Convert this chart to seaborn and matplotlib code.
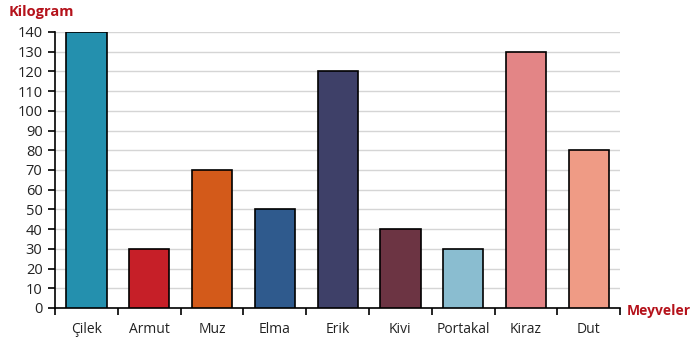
import matplotlib
matplotlib.use("Agg")
import matplotlib.pyplot as plt
import seaborn as sns
import pandas as pd
import numpy as np

categories = ["Çilek", "Armut", "Muz", "Elma", "Erik", "Kivi", "Portakal", "Kiraz", "Dut"]
values = [140, 30, 70, 50, 120, 40, 30, 130, 80]
colors = ["#2490AE", "#C61F28", "#D35A1A", "#2F5A8D", "#3E4068", "#6C3443", "#8ABDD0", "#E38586", "#EF9B85"]
yticks = list(range(0, 141, 10))

sns.set_theme(style="white")
plt.rcParams['font.family'] = ['Open Sans', 'DejaVu Sans']

df = pd.DataFrame({"Meyve": categories, "Kg": values})

fig = plt.figure(figsize=(7, 3.47), dpi=100)
ax = fig.add_axes([0.0786, 0.1124, 0.8074, 0.7954])
sns.barplot(data=df, x="Meyve", y="Kg", hue="Meyve", palette=colors, legend=False,
            saturation=1, edgecolor="black", linewidth=1.2, width=0.64, ax=ax, zorder=3)

ax.set_ylim(0, 140)
ax.set_xlim(-0.5, len(categories) - 0.5)
ax.set_yticks(yticks)
ax.set_yticklabels([str(v) for v in yticks], fontsize=10.5, color="#222222")
ax.yaxis.grid(True, color="#d5d5d5", linewidth=1, zorder=0)
ax.set_axisbelow(True)

ax.set_xticks(np.arange(-0.5, len(categories), 1.0))
ax.set_xticklabels([])
ax.set_xticks(np.arange(len(categories)), minor=True)
ax.set_xticklabels(categories, minor=True, fontsize=10, color="#222222")
ax.tick_params(axis="x", which="major", direction="out", length=5, width=1.2, color="black", bottom=True)
ax.tick_params(axis="x", which="minor", length=0, pad=10)
ax.tick_params(axis="y", direction="out", length=5, width=1.2, color="black", left=True, pad=4)

for s in ["top", "right"]:
    ax.spines[s].set_visible(False)
for s in ["left", "bottom"]:
    ax.spines[s].set_color("black")
    ax.spines[s].set_linewidth(1.2)

ax.set_xlabel("")
ax.set_ylabel("")
fig.text(0.012, 0.965, "Kilogram", color="#B5121B", fontsize=10.5, fontweight="bold", ha="left", va="center")
fig.text(0.896, 0.105, "Meyveler", color="#B5121B", fontsize=10, fontweight="bold", ha="left", va="center")

fig.savefig("out.png", dpi=100)
